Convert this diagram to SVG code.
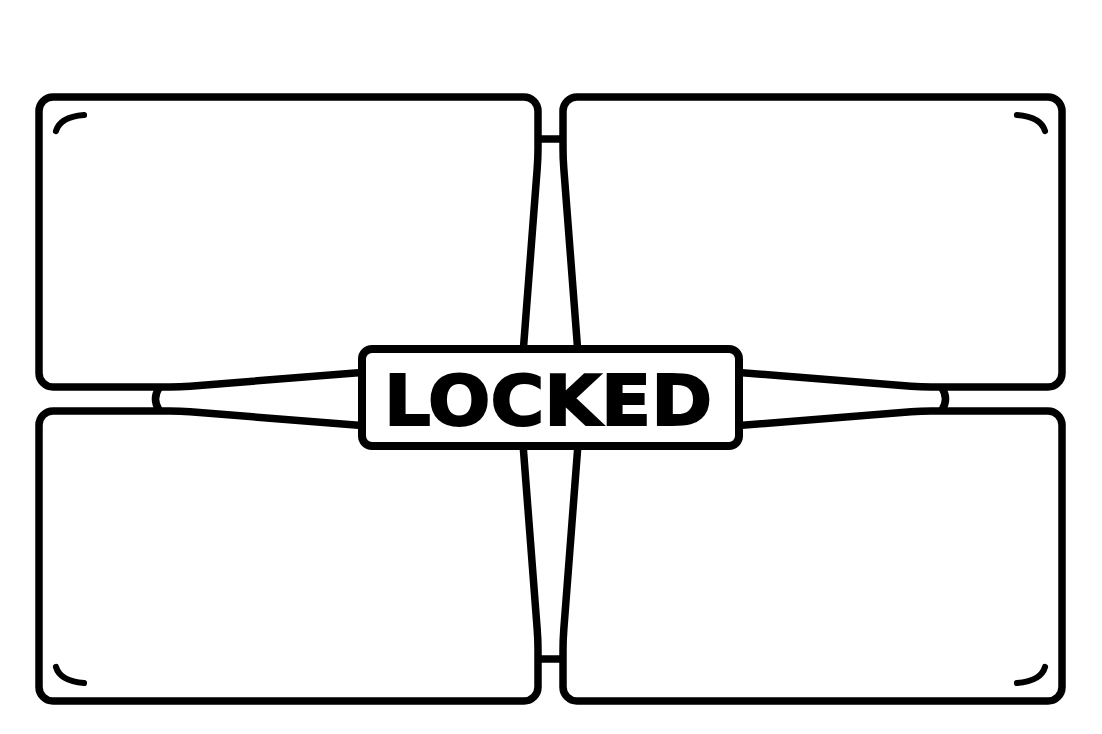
<svg xmlns="http://www.w3.org/2000/svg" width="1102" height="734" viewBox="0 0 1102 734">
<style>
.panel{fill:#fff;stroke:#000;stroke-width:7.5;stroke-linejoin:round}
.bar{fill:none;stroke:#000;stroke-width:7.5;stroke-linecap:butt}
.accent{fill:none;stroke:#000;stroke-width:6.2;stroke-linecap:round}
.box{fill:#fff;stroke:#000;stroke-width:8}
.label{font-family:"DejaVu Sans","Liberation Sans",sans-serif;font-weight:bold;font-size:70px;fill:#000;stroke:#000;stroke-width:2;stroke-linejoin:miter}
</style>
<rect width="1102" height="734" fill="#fff"/>
<g id="panel-top-left">
<path class="panel" d="M53,97 H524 A14,14 0 0 1 538,111 V148 Q538,158 537.2,168.5 L521,380 L390,370.3 L190,386.2 Q180,387 170,387 H53 A14,14 0 0 1 39,373 V111 A14,14 0 0 1 53,97 Z"/>
<path class="accent" d="M56,131 Q60,117 84,115"/>
</g>
<g id="panel-top-right">
<path class="panel" d="M1048,97 H577 A14,14 0 0 0 563,111 V148 Q563,158 563.8,168.5 L580,380 L711,370.3 L911,386.2 Q921,387 931,387 H1048 A14,14 0 0 0 1062,373 V111 A14,14 0 0 0 1048,97 Z"/>
<path class="accent" d="M1045,131 Q1041,117 1017,115"/>
</g>
<g id="panel-bottom-left">
<path class="panel" d="M53,701 H524 A14,14 0 0 0 538,687 V650 Q538,640 537.2,629.5 L521,418 L390,427.7 L190,411.8 Q180,411 170,411 H53 A14,14 0 0 0 39,425 V687 A14,14 0 0 0 53,701 Z"/>
<path class="accent" d="M56,667 Q60,681 84,683"/>
</g>
<g id="panel-bottom-right">
<path class="panel" d="M1048,701 H577 A14,14 0 0 1 563,687 V650 Q563,640 563.8,629.5 L580,418 L711,427.7 L911,411.8 Q921,411 931,411 H1048 A14,14 0 0 1 1062,425 V687 A14,14 0 0 1 1048,701 Z"/>
<path class="accent" d="M1045,667 Q1041,681 1017,683"/>
</g>
<g id="connectors">
<path class="bar" d="M538,139 H563"/>
<path class="bar" d="M538,659 H563"/>
<path class="bar" d="M159,388 Q152,399 159,410"/>
<path class="bar" d="M942,388 Q949,399 942,410"/>
</g>
<g id="lock-box">
<rect class="box" x="362" y="349" width="377" height="97" rx="10"/>
<text class="label" x="384" y="425" textLength="328" lengthAdjust="spacingAndGlyphs">LOCKED</text>
</g>
</svg>
